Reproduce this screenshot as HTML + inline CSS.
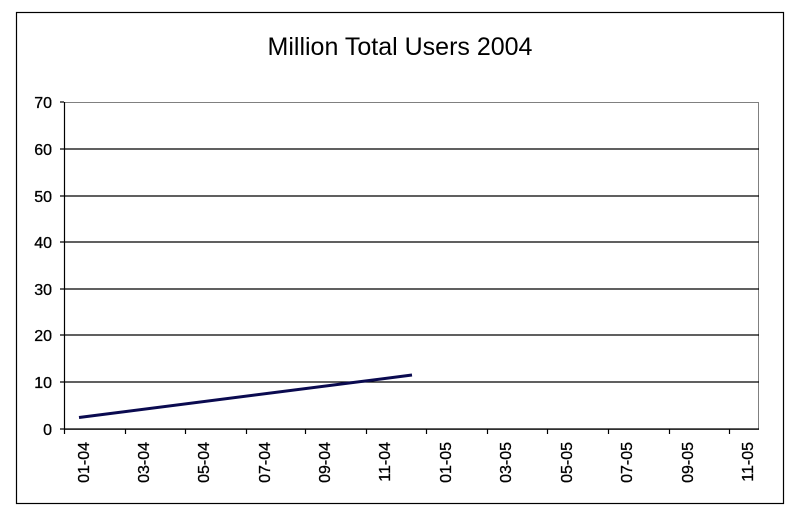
<!DOCTYPE html>
<html><head><style>body{margin:0;background:#fff}svg{display:block}</style></head><body>
<svg width="798" height="519" xmlns="http://www.w3.org/2000/svg" font-family="Liberation Sans, Arial, sans-serif">
<rect x="0" y="0" width="798" height="519" fill="#fff"/>
<rect x="16.5" y="12.5" width="767" height="491" fill="none" stroke="#000" stroke-width="1.2"/>
<text x="400" y="55" font-size="25" text-anchor="middle">Million Total Users 2004</text>
<rect x="64.5" y="102.5" width="694" height="327" fill="none" stroke="#808080"/>
<g stroke="#000" stroke-width="1.2">
<line x1="60" y1="149" x2="759" y2="149"/>
<line x1="60" y1="196" x2="759" y2="196"/>
<line x1="60" y1="242" x2="759" y2="242"/>
<line x1="60" y1="289" x2="759" y2="289"/>
<line x1="60" y1="335" x2="759" y2="335"/>
<line x1="60" y1="382" x2="759" y2="382"/>
<line x1="60" y1="429" x2="759" y2="429"/>
<line x1="60" y1="102" x2="64" y2="102"/>
<line x1="64.5" y1="102" x2="64.5" y2="434"/>
</g>
<g stroke="#000" stroke-width="1.2">
<line x1="125.5" y1="429" x2="125.5" y2="434"/><line x1="185.5" y1="429" x2="185.5" y2="434"/>
<line x1="246.5" y1="429" x2="246.5" y2="434"/><line x1="305.5" y1="429" x2="305.5" y2="434"/>
<line x1="366.5" y1="429" x2="366.5" y2="434"/><line x1="426.5" y1="429" x2="426.5" y2="434"/>
<line x1="487.5" y1="429" x2="487.5" y2="434"/><line x1="547.5" y1="429" x2="547.5" y2="434"/>
<line x1="608.5" y1="429" x2="608.5" y2="434"/><line x1="669.5" y1="429" x2="669.5" y2="434"/>
<line x1="729.5" y1="429" x2="729.5" y2="434"/>
</g>
<g font-size="16" text-anchor="end" stroke="#000" stroke-width="0.3">
<text x="52" y="108">70</text><text x="52" y="155">60</text><text x="52" y="202">50</text>
<text x="52" y="248">40</text><text x="52" y="295">30</text><text x="52" y="341">20</text>
<text x="52" y="388">10</text><text x="52" y="435">0</text>
</g>
<g font-size="16" text-anchor="end" stroke="#000" stroke-width="0.3">
<text transform="translate(89,442) rotate(-90)">01-04</text>
<text transform="translate(149,442) rotate(-90)">03-04</text>
<text transform="translate(209,442) rotate(-90)">05-04</text>
<text transform="translate(270,442) rotate(-90)">07-04</text>
<text transform="translate(330,442) rotate(-90)">09-04</text>
<text transform="translate(390,442) rotate(-90)">11-04</text>
<text transform="translate(451,442) rotate(-90)">01-05</text>
<text transform="translate(511,442) rotate(-90)">03-05</text>
<text transform="translate(572,442) rotate(-90)">05-05</text>
<text transform="translate(632,442) rotate(-90)">07-05</text>
<text transform="translate(693,442) rotate(-90)">09-05</text>
<text transform="translate(753,442) rotate(-90)">11-05</text>
</g>
<line x1="79" y1="417.5" x2="412" y2="375" stroke="#0a0a50" stroke-width="3"/>
</svg>
</body></html>
